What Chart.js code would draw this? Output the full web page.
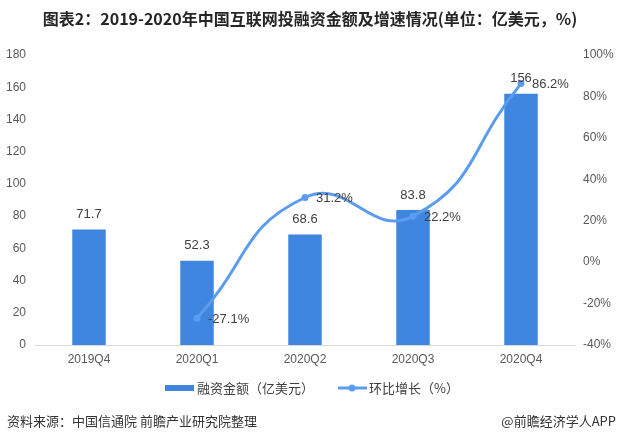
<!DOCTYPE html>
<html>
<head>
<meta charset="utf-8">
<script src="https://cdn.jsdelivr.net/npm/chart.js@4/dist/chart.umd.min.js"></script>
<style>
    html, body { margin: 0; padding: 0; background: #fff; }
    #wrap { width: 618px; height: 442px; position: relative; }
</style>
</head>
<body>
<div id="wrap"><canvas id="financeChart" width="618" height="442"></canvas></div>
<script>
// Data
const quarters = ['2019Q4', '2020Q1', '2020Q2', '2020Q3', '2020Q4'];
const fundingAmount = [71.7, 52.3, 68.6, 83.8, 156];
const growthRate = [null, -27.1, 31.2, 22.2, 86.2];
const leftTicks = [0, 20, 40, 60, 80, 100, 120, 140, 160, 180];
const rightTicks = [-40, -20, 0, 20, 40, 60, 80, 100];

const titleText = '图表2：2019-2020年中国互联网投融资金额及增速情况(单位：亿美元，%)';
const sourceText = '资料来源：中国信通院 前瞻产业研究院整理';
const brandText = '@前瞻经济学人APP';
const barLabel = '融资金额（亿美元）';
const lineLabel = '环比增长（%）';

const BAR_COLOR = '#3f86e0';
const LINE_COLOR = '#5b9cf0';
const CJK = "'Noto Sans CJK SC', sans-serif";
const NUM = "'Liberation Sans', 'Noto Sans CJK SC', sans-serif";

/**
 * Draws title, value labels, legend and source line
 */
const decorations = {
    id: 'decorations',
    afterDatasetsDraw(chart) {
        const ctx = chart.ctx;
        ctx.save();
        ctx.fillStyle = '#404040';
        ctx.font = '13px ' + NUM;
        ctx.textBaseline = 'middle';

        // bar value labels
        ctx.textAlign = 'center';
        chart.getDatasetMeta(0).data.forEach((bar, i) => {
            ctx.fillText(String(fundingAmount[i]), bar.x, bar.y - 15);
        });

        // growth labels, right of each point
        ctx.textAlign = 'left';
        chart.getDatasetMeta(1).data.forEach((pt, i) => {
            if (growthRate[i] === null) return;
            ctx.fillText(growthRate[i].toFixed(1) + '%', pt.x + 11, pt.y + 1);
        });
        ctx.restore();
    },
    afterDraw(chart) {
        const ctx = chart.ctx;
        ctx.save();

        // title
        ctx.fillStyle = '#262626';
        ctx.font = 'bold 16px ' + CJK;
        ctx.textAlign = 'center';
        ctx.textBaseline = 'middle';
        ctx.fillText(titleText, 310, 19);

        // legend
        const ly = 388;
        ctx.fillStyle = BAR_COLOR;
        ctx.fillRect(165, ly - 3, 29, 6);
        ctx.strokeStyle = LINE_COLOR;
        ctx.lineWidth = 3;
        ctx.beginPath();
        ctx.moveTo(338, ly);
        ctx.lineTo(367, ly);
        ctx.stroke();
        ctx.fillStyle = LINE_COLOR;
        ctx.beginPath();
        ctx.arc(352, ly, 3.5, 0, Math.PI * 2);
        ctx.fill();

        ctx.fillStyle = '#404040';
        ctx.font = '13px ' + CJK;
        ctx.textAlign = 'left';
        ctx.fillText(barLabel, 197, ly);
        ctx.fillText(lineLabel, 369, ly);

        // source line
        ctx.fillStyle = '#333';
        ctx.font = '13px ' + CJK;
        ctx.fillText(sourceText, 7, 421);
        ctx.textAlign = 'right';
        ctx.fillText(brandText, 616, 421);
        ctx.restore();
    }
};

const canvas = document.getElementById('financeChart');
new Chart(canvas.getContext('2d'), {
    type: 'bar',
    data: {
        labels: quarters,
        datasets: [
            {
                type: 'bar',
                label: barLabel,
                data: fundingAmount,
                backgroundColor: BAR_COLOR,
                barPercentage: 0.31,
                categoryPercentage: 1,
                yAxisID: 'y',
                order: 2
            },
            {
                type: 'line',
                label: lineLabel,
                data: growthRate,
                borderColor: LINE_COLOR,
                backgroundColor: LINE_COLOR,
                borderWidth: 3,
                pointRadius: 3.5,
                pointBackgroundColor: LINE_COLOR,
                pointBorderWidth: 0,
                tension: 0.5,
                spanGaps: false,
                yAxisID: 'y1',
                order: 1
            }
        ]
    },
    options: {
        responsive: false,
        animation: false,
        devicePixelRatio: 1,
        layout: { padding: { top: 55, bottom: 72, left: 0, right: 0 } },
        plugins: {
            legend: { display: false },
            title: { display: false },
            tooltip: { enabled: false }
        },
        scales: {
            x: {
                grid: { display: false, drawTicks: false },
                border: { display: true, color: '#d9d9d9', width: 1 },
                ticks: {
                    color: '#595959',
                    font: { size: 12, family: NUM },
                    padding: 7,
                    maxRotation: 0
                },
                afterFit: (scale) => { scale.height = 25; }
            },
            y: {
                position: 'left',
                min: 0,
                max: 180,
                afterBuildTicks: (scale) => { scale.ticks = leftTicks.map(v => ({ value: v })); },
                grid: { display: false, drawTicks: false },
                border: { display: false },
                ticks: {
                    color: '#595959',
                    font: { size: 12, family: NUM },
                    padding: 9
                },
                afterFit: (scale) => { scale.width = 35; }
            },
            y1: {
                position: 'right',
                min: -40,
                max: 100,
                afterBuildTicks: (scale) => { scale.ticks = rightTicks.map(v => ({ value: v })); },
                grid: { display: false, drawTicks: false },
                border: { display: false },
                ticks: {
                    color: '#595959',
                    font: { size: 12, family: NUM },
                    padding: 8,
                    callback: (value) => value + '%'
                },
                afterFit: (scale) => { scale.width = 43; }
            }
        }
    },
    plugins: [decorations]
});
</script>
</body>
</html>
